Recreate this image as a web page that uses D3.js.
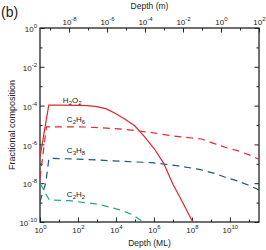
<!DOCTYPE html>
<html>
<head>
<meta charset="utf-8">
<script src="https://cdn.jsdelivr.net/npm/d3@7"></script>
<style>
  body { margin: 0; background: #fff; }
  svg text { font-family: "Liberation Sans", Arial, sans-serif; fill: #222; }
</style>
</head>
<body>
<div id="chart"></div>
<script>

// depth in monolayers, fractional composition
var h2o2Depth = [1, 2.9, 10, 100, 316, 1e3, 3.16e3, 1e4, 3.16e4, 1e5, 3.16e5, 1e6, 3.16e6, 1e7, 3.16e7, 1.1e8];
var h2o2Frac  = [2.2e-7, 1.07e-4, 1.07e-4, 1.02e-4, 1.0e-4, 8.9e-5, 6.8e-5, 3.8e-5, 1.9e-5, 8.9e-6, 2.5e-6, 6.3e-7, 1.12e-7, 8.9e-9, 1.07e-9, 1e-10];

var c2h6Depth = [1, 2.19, 10, 250, 3.16e3, 2.75e4, 6.2e5, 1.05e7, 1e8, 3.2e8, 1.26e9, 5.5e9, 2.45e10, 1.12e11, 3.4e11];
var c2h6Frac  = [1.86e-8, 8.1e-6, 8.1e-6, 7.9e-6, 6.9e-6, 6.0e-6, 4.2e-6, 2.7e-6, 2.14e-6, 1.9e-6, 1.17e-6, 7.1e-7, 4.8e-7, 2.8e-7, 1.7e-7];

var c3h8Depth = [1, 2, 2.95, 10, 100, 1e3, 2.8e4, 7.6e5, 1.9e7, 2.8e8, 1.6e9, 6.6e9, 2.24e10, 9.1e10, 3.4e11];
var c3h8Frac  = [1.12e-9, 1e-8, 1.9e-7, 1.86e-7, 1.74e-7, 1.58e-7, 1.32e-7, 1.15e-7, 7.9e-8, 5e-8, 3.2e-8, 1.9e-8, 1.35e-8, 8.1e-9, 4.5e-9];

var c2h2Depth = [1, 3.1, 35, 1.3e3, 2e4, 8.1e4, 2.6e5];
var c2h2Frac  = [1e-8, 1.35e-9, 1.26e-9, 8.1e-10, 4e-10, 2.3e-10, 1e-10];

var yTickExp = [0, -1, -2, -3, -4, -5, -6, -7, -8, -9, -10];
var xTickExp = [0, 1, 2, 3, 4, 5, 6, 7, 8, 9, 10, 11];
var mTickExp = [-9, -8, -7, -6, -5, -4, -3, -2, -1, 0, 1, 2];

var mPerML = 2.95e-10;

var series = [
  {name: ["H", "2", "O", "2"], depth: h2o2Depth, frac: h2o2Frac, color: "#e3262b", dash: null, at: [16, 1.35e-4]},
  {name: ["C", "2", "H", "6"], depth: c2h6Depth, frac: c2h6Frac, color: "#e3262b", dash: "7,5", at: [26, 1.4e-5]},
  {name: ["C", "3", "H", "8"], depth: c3h8Depth, frac: c3h8Frac, color: "#1b5a7a", dash: "7,5", at: [26, 3.6e-7]},
  {name: ["C", "2", "H", "2"], depth: c2h2Depth, frac: c2h2Frac, color: "#23a97c", dash: "7,5", at: [26, 1.95e-9]}
];

var margin = {top: 28, right: 7, bottom: 28, left: 40};
var W = 266, H = 250;
var width = W - margin.left - margin.right;
var height = H - margin.top - margin.bottom;

var svg = d3.select("#chart").append("svg")
  .attr("width", W)
  .attr("height", H);

var g = svg.append("g")
  .attr("transform", "translate(" + margin.left + "," + margin.top + ")");

var x = d3.scaleLog().domain([1, 3.4e11]).range([0, width]);
var xm = d3.scaleLog().domain([1 * mPerML, 3.4e11 * mPerML]).range([0, width]);
var y = d3.scaleLog().domain([1e-10, 1]).range([height, 0]);

function pow(e) { return Math.pow(10, e); }

// label as 10 with superscript
function sup(sel) {
  sel.each(function(d) {
    var t = d3.select(this);
    var e = Math.round(Math.log10(d));
    t.text(null);
    t.append("tspan").text("10");
    t.append("tspan").attr("dy", -4).attr("font-size", 6).text(e);
  });
}

function drawAxis(maker, scale, exps, transform, labelled, isMajor) {
  var vals = exps.filter(function(e) { return isMajor(e) === labelled; }).map(pow);
  var ax = maker(scale).tickValues(vals)
    .tickSize(labelled ? -4.5 : -2.5)
    .tickPadding(3)
    .tickFormat(function() { return ""; });
  var a = g.append("g").attr("transform", transform).call(ax);
  a.select(".domain").remove();
  a.selectAll(".tick line").attr("stroke", "#222").attr("stroke-width", 1);
  return a;
}

var even = function(e) { return e % 2 === 0; };

// bottom: Depth (ML)
[true, false].forEach(function(lab) {
  var a = drawAxis(d3.axisBottom, x, xTickExp, "translate(0," + height + ")", lab, even);
  if (lab) a.selectAll(".tick text").attr("font-size", 8).attr("dy", "1.05em").call(sup);
});
// top: Depth (m)
[true, false].forEach(function(lab) {
  var a = drawAxis(d3.axisTop, xm, mTickExp, "translate(0,0)", lab, even);
  if (lab) a.selectAll(".tick text").attr("font-size", 8).call(sup);
});
// left
[true, false].forEach(function(lab) {
  var a = drawAxis(d3.axisLeft, y, yTickExp, "translate(0,0)", lab, even);
  if (lab) a.selectAll(".tick text").attr("font-size", 8).attr("dy", "0.45em").call(sup);
});
// right
[true, false].forEach(function(lab) {
  var a = drawAxis(d3.axisRight, y, yTickExp, "translate(" + width + ",0)", lab, even);
  a.selectAll(".tick text").remove();
});

// frame
g.append("rect")
  .attr("width", width)
  .attr("height", height)
  .attr("fill", "none")
  .attr("stroke", "#222")
  .attr("stroke-width", 1.3);

g.append("clipPath").attr("id", "clip")
  .append("rect").attr("width", width).attr("height", height);

var line = d3.line()
  .x(function(d) { return x(d[0]); })
  .y(function(d) { return y(d[1]); });

series.forEach(function(s) {
  var pts = s.depth.map(function(d, i) { return [d, s.frac[i]]; });
  g.append("path")
    .attr("clip-path", "url(#clip)")
    .attr("d", line(pts))
    .attr("fill", "none")
    .attr("stroke", s.color)
    .attr("stroke-width", 1.2)
    .attr("stroke-dasharray", s.dash);

  var t = g.append("text")
    .attr("x", x(s.at[0]))
    .attr("y", y(s.at[1]))
    .attr("font-size", 8);
  s.name.forEach(function(p, i) {
    var ts = t.append("tspan").text(p);
    if (i % 2 === 1) ts.attr("font-size", 6).attr("dy", 2);
    else if (i > 0) ts.attr("dy", -2);
  });
});

// titles
svg.append("text")
  .attr("x", margin.left + width / 2)
  .attr("y", 9)
  .attr("text-anchor", "middle")
  .attr("font-size", 8.5)
  .text("Depth (m)");

svg.append("text")
  .attr("x", margin.left + width / 2)
  .attr("y", 246)
  .attr("text-anchor", "middle")
  .attr("font-size", 8.5)
  .text("Depth (ML)");

svg.append("text")
  .attr("transform", "translate(15," + (margin.top + height / 2) + ") rotate(-90)")
  .attr("text-anchor", "middle")
  .attr("font-size", 9)
  .text("Fractional composition");

svg.append("text")
  .attr("x", 1)
  .attr("y", 17)
  .attr("font-size", 14)
  .text("(b)");

</script>
</body>
</html>
